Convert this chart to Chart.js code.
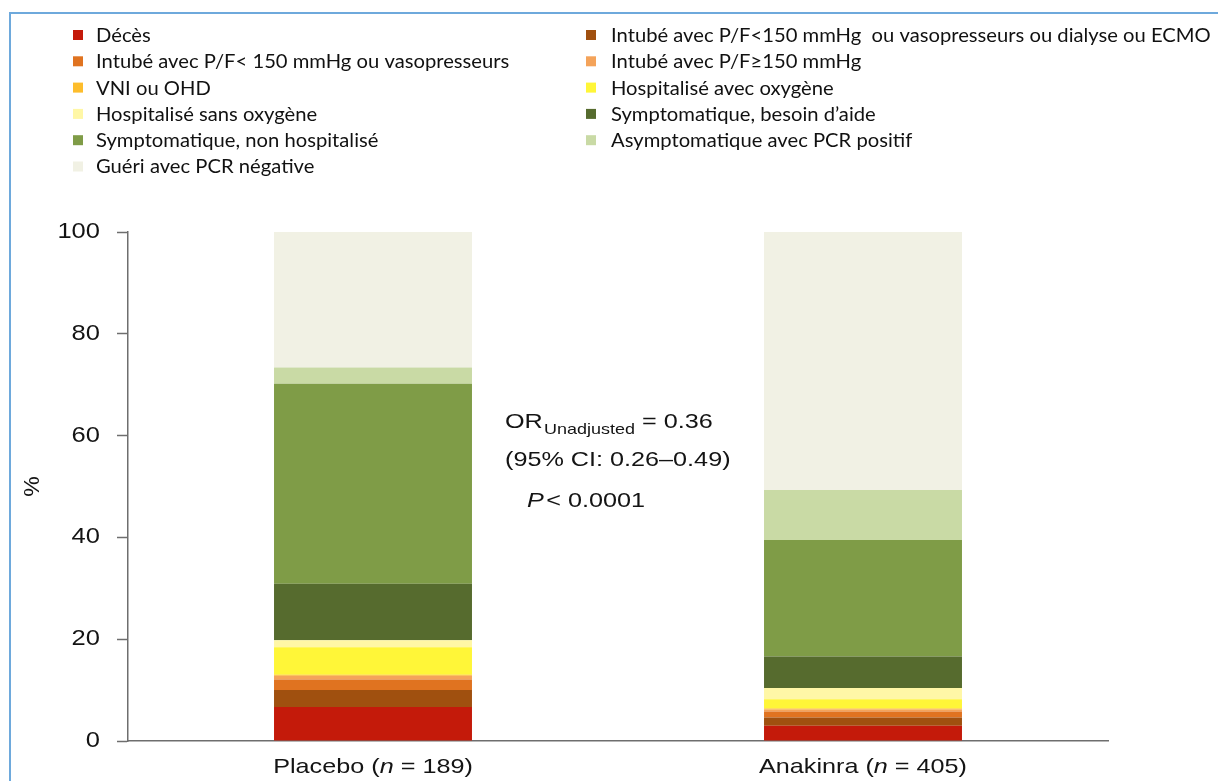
<!DOCTYPE html>
<html>
<head>
<meta charset="utf-8">
<title>Statut clinique</title>
<script src="https://cdn.jsdelivr.net/npm/chart.js@4.4.1/dist/chart.umd.min.js"></script>
<style>
  html, body { margin: 0; padding: 0; background: #ffffff; }
  #wrap { position: relative; width: 1218px; height: 781px; overflow: hidden; }
  #c { position: absolute; left: 0; top: 0; }
  #frame {
    position: absolute; left: 9px; top: 12px; right: -4px; bottom: -4px;
    border-top: 2px solid #6ea9dc; border-left: 2px solid #6ea9dc;
    pointer-events: none;
  }
</style>
</head>
<body>
<div id="wrap">
  <canvas id="c" width="1218" height="781"></canvas>
  <div id="frame"></div>
</div>
<script>
// Groups on the x axis and their sizes
const groups = ['Placebo', 'Anakinra'];
const groupSizes = [189, 405];

// Clinical status categories, from worst (bottom of the stack) to best (top)
const statusLabels = [
  'Décès',
  'Intubé avec P/F<150 mmHg  ou vasopresseurs ou dialyse ou ECMO',
  'Intubé avec P/F< 150 mmHg ou vasopresseurs',
  'Intubé avec P/F≥150 mmHg',
  'VNI ou OHD',
  'Hospitalisé avec oxygène',
  'Hospitalisé sans oxygène',
  'Symptomatique, besoin d’aide',
  'Symptomatique, non hospitalisé',
  'Asymptomatique avec PCR positif',
  'Guéri avec PCR négative'
];

// Percent of patients in each status
const placeboPct  = [6.7, 3.3, 2.1, 0.7, 0.2, 5.4, 1.4, 11.1, 39.3, 3.2, 26.6];
const anakinraPct = [3.0, 1.6, 1.2, 0.4, 0.2, 1.8, 2.2, 6.2, 22.9, 9.8, 50.7];

const statusColors = [
  '#c41a0a', '#a0500f', '#e07320', '#f4a35a', '#fdbd2c', '#fff638',
  '#fff7a6', '#566b2e', '#7f9c47', '#c9daa5', '#f1f1e4'
];

const yTicks = [0, 20, 40, 60, 80, 100];

// Odds ratio annotation
const orValue = '0.36';
const ciText = '(95% CI: 0.26–0.49)';
const pText = '< 0.0001';

// Text is drawn slightly widened horizontally
const SX = 1.2;
const SX_LEGEND = 1.092;
const SANS = '"Liberation Sans", Arial, sans-serif';
const LEGEND_FONT = '18.5px Lato, "Open Sans", sans-serif';
const AXIS_COLOR = '#6e6e6e';

function drawRuns(ctx, runs, x, y, align, sx) {
  // runs: [{text, font, dy, gap}]
  let total = 0;
  runs.forEach(r => { ctx.font = r.font; r.w = ctx.measureText(r.text).width + (r.gap || 0); total += r.w; });
  let start = x;
  if (align === 'center') start = x - total * sx / 2;
  else if (align === 'right') start = x - total * sx;
  ctx.save();
  ctx.translate(start, y);
  ctx.scale(sx, 1);
  let cx = 0;
  runs.forEach(r => {
    ctx.font = r.font;
    ctx.fillText(r.text, cx, r.dy || 0);
    cx += r.w;
  });
  ctx.restore();
}

const textPlugin = {
  id: 'chartTexts',
  afterDraw(chart) {
    const ctx = chart.ctx;
    const xs = chart.scales.x;
    const ys = chart.scales.y;
    ctx.save();
    ctx.fillStyle = '#141414';
    ctx.textBaseline = 'middle';
    ctx.textAlign = 'left';

    // y tick labels
    ys.ticks.forEach(t => {
      drawRuns(ctx, [{ text: String(t.value), font: '22px ' + SANS }],
        ys.right - 28, ys.getPixelForValue(t.value), 'right', 1.16);
    });

    // y axis title
    ctx.save();
    ctx.translate(33, (ys.top + ys.bottom) / 2);
    ctx.rotate(-Math.PI / 2);
    drawRuns(ctx, [{ text: '%', font: '22px ' + SANS }], 0, 0, 'center', 1.05);
    ctx.restore();

    // x tick labels with italic n
    groups.forEach((g, i) => {
      drawRuns(ctx, [
        { text: g + ' (', font: '21px ' + SANS },
        { text: 'n', font: 'italic 21px ' + SANS },
        { text: ' = ' + groupSizes[i] + ')', font: '21px ' + SANS }
      ], xs.getPixelForValue(i), 767, 'center', SX);
    });

    // odds ratio annotation
    ctx.textBaseline = 'alphabetic';
    drawRuns(ctx, [
      { text: 'OR', font: '21px ' + SANS, gap: 1 },
      { text: 'Unadjusted', font: '15px ' + SANS, dy: 6 },
      { text: ' = ' + orValue, font: '21px ' + SANS }
    ], 505, 428, 'left', SX);
    drawRuns(ctx, [{ text: ciText, font: '21px ' + SANS }], 505, 466, 'left', SX);
    drawRuns(ctx, [
      { text: 'P', font: 'italic 21px ' + SANS, gap: 2 },
      { text: pText, font: '21px ' + SANS }
    ], 527, 507, 'left', SX);

    // legend in two columns
    ctx.textBaseline = 'middle';
    const colMarker = [73, 586];
    const colText = [96, 611];
    chart.data.datasets.forEach((ds, i) => {
      const col = i % 2;
      const row = Math.floor(i / 2);
      const y = 35 + 26.3 * row;
      ctx.fillStyle = ds.backgroundColor;
      ctx.fillRect(colMarker[col], y - 5, 10, 10);
      ctx.fillStyle = '#111111';
      drawRuns(ctx, [{ text: ds.label, font: LEGEND_FONT }], colText[col], y + 1, 'left', SX_LEGEND);
    });
    ctx.restore();
  }
};

const datasets = statusLabels.map((label, i) => ({
  label: label,
  data: [placeboPct[i], anakinraPct[i]],
  backgroundColor: statusColors[i],
  borderWidth: 0,
  barPercentage: 0.404,
  categoryPercentage: 1.0
}));

new Chart(document.getElementById('c'), {
  type: 'bar',
  data: { labels: groups, datasets: datasets },
  options: {
    responsive: false,
    animation: false,
    devicePixelRatio: 1,
    layout: { padding: { top: 232, right: 110, bottom: 0, left: 0 } },
    plugins: {
      legend: { display: false },
      tooltip: { enabled: false },
      title: { display: false }
    },
    scales: {
      x: {
        stacked: true,
        offset: true,
        grid: { display: false },
        border: { display: true, color: AXIS_COLOR, width: 1.5 },
        ticks: { color: 'rgba(0,0,0,0)', font: { size: 21 }, padding: 14 },
        afterFit: (scale) => { scale.height = 40; }
      },
      y: {
        stacked: true,
        min: 0,
        max: 100,
        afterBuildTicks: (scale) => { scale.ticks = yTicks.map(v => ({ value: v })); },
        grid: {
          drawOnChartArea: false,
          drawTicks: true,
          tickLength: 11,
          tickColor: AXIS_COLOR,
          tickWidth: 1.5
        },
        border: { display: true, color: AXIS_COLOR, width: 1.5 },
        ticks: { color: 'rgba(0,0,0,0)', font: { size: 21 }, padding: 17 },
        afterFit: (scale) => { scale.width = 128; }
      }
    }
  },
  plugins: [textPlugin]
});
</script>
</body>
</html>
